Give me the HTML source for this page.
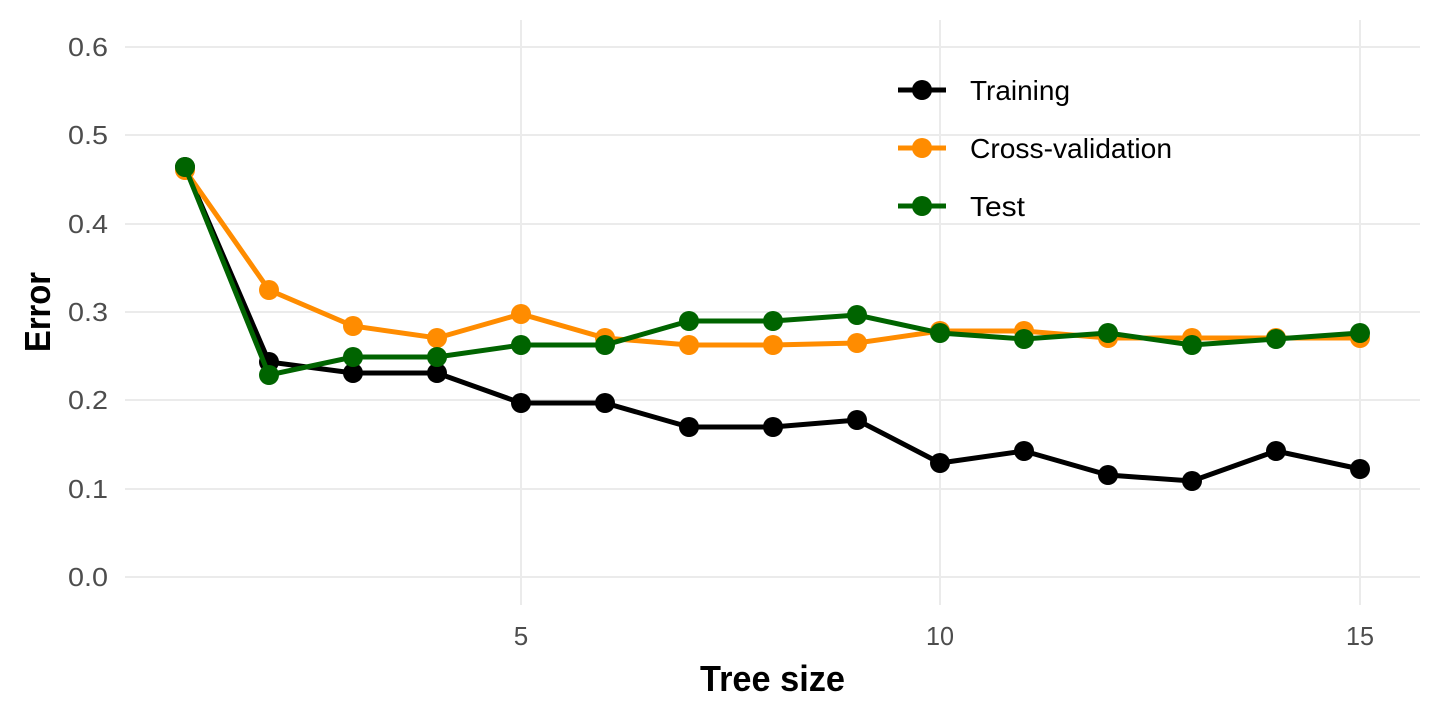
<!DOCTYPE html>
<html><head><style>
body{margin:0;background:#fff;}
svg text{font-family:"Liberation Sans Narrow","Liberation Sans",sans-serif;}
</style></head><body>
<svg width="1440" height="720" xmlns="http://www.w3.org/2000/svg">
<g stroke="#ebebeb" stroke-width="2">
<line x1="125" x2="1420" y1="577" y2="577"/><line x1="125" x2="1420" y1="489" y2="489"/>
<line x1="125" x2="1420" y1="400" y2="400"/><line x1="125" x2="1420" y1="312" y2="312"/>
<line x1="125" x2="1420" y1="224" y2="224"/><line x1="125" x2="1420" y1="135" y2="135"/>
<line x1="125" x2="1420" y1="47" y2="47"/>
<line x1="521" x2="521" y1="20" y2="605"/><line x1="940" x2="940" y1="20" y2="605"/><line x1="1360" x2="1360" y1="20" y2="605"/>
</g>
<g fill="#4d4d4d" font-size="26">
<text x="68" y="586" textLength="40" lengthAdjust="spacingAndGlyphs">0.0</text>
<text x="68" y="498" textLength="40" lengthAdjust="spacingAndGlyphs">0.1</text>
<text x="68" y="409" textLength="40" lengthAdjust="spacingAndGlyphs">0.2</text>
<text x="68" y="321" textLength="40" lengthAdjust="spacingAndGlyphs">0.3</text>
<text x="68" y="233" textLength="40" lengthAdjust="spacingAndGlyphs">0.4</text>
<text x="68" y="144" textLength="40" lengthAdjust="spacingAndGlyphs">0.5</text>
<text x="68" y="56" textLength="40" lengthAdjust="spacingAndGlyphs">0.6</text>
</g>
<g fill="#4d4d4d" font-size="26" text-anchor="middle">
<text x="521" y="645">5</text>
<text x="940" y="645" textLength="28" lengthAdjust="spacingAndGlyphs">10</text>
<text x="1360" y="645" textLength="28" lengthAdjust="spacingAndGlyphs">15</text>
</g>
<text x="700" y="691" font-size="36" font-weight="bold" textLength="145" lengthAdjust="spacingAndGlyphs">Tree size</text>
<text transform="translate(50,352) rotate(-90)" font-size="36" font-weight="bold" textLength="80" lengthAdjust="spacingAndGlyphs">Error</text>
<g stroke="#000" stroke-width="5" fill="none"><polyline points="185,167 269,362 353,373 437,373 521,403 605,403 689,427 773,427 857,420 940,463 1024,451 1108,475 1192,481 1276,451 1360,469"/></g>
<g fill="#000"><circle cx="185" cy="167" r="10"/><circle cx="269" cy="362" r="10"/><circle cx="353" cy="373" r="10"/><circle cx="437" cy="373" r="10"/><circle cx="521" cy="403" r="10"/><circle cx="605" cy="403" r="10"/><circle cx="689" cy="427" r="10"/><circle cx="773" cy="427" r="10"/><circle cx="857" cy="420" r="10"/><circle cx="940" cy="463" r="10"/><circle cx="1024" cy="451" r="10"/><circle cx="1108" cy="475" r="10"/><circle cx="1192" cy="481" r="10"/><circle cx="1276" cy="451" r="10"/><circle cx="1360" cy="469" r="10"/></g>
<g stroke="#ff8c00" stroke-width="5" fill="none"><polyline points="185,170 269,290 353,326 437,338 521,314 605,338 689,345 773,345 857,343 940,331 1024,331 1108,338 1192,338 1276,338 1360,338"/></g>
<g fill="#ff8c00"><circle cx="185" cy="170" r="10"/><circle cx="269" cy="290" r="10"/><circle cx="353" cy="326" r="10"/><circle cx="437" cy="338" r="10"/><circle cx="521" cy="314" r="10"/><circle cx="605" cy="338" r="10"/><circle cx="689" cy="345" r="10"/><circle cx="773" cy="345" r="10"/><circle cx="857" cy="343" r="10"/><circle cx="940" cy="331" r="10"/><circle cx="1024" cy="331" r="10"/><circle cx="1108" cy="338" r="10"/><circle cx="1192" cy="338" r="10"/><circle cx="1276" cy="338" r="10"/><circle cx="1360" cy="338" r="10"/></g>
<g stroke="#006400" stroke-width="5" fill="none"><polyline points="185,167 269,375 353,357 437,357 521,345 605,345 689,321 773,321 857,315 940,333 1024,339 1108,333 1192,345 1276,339 1360,333"/></g>
<g fill="#006400"><circle cx="185" cy="167" r="10"/><circle cx="269" cy="375" r="10"/><circle cx="353" cy="357" r="10"/><circle cx="437" cy="357" r="10"/><circle cx="521" cy="345" r="10"/><circle cx="605" cy="345" r="10"/><circle cx="689" cy="321" r="10"/><circle cx="773" cy="321" r="10"/><circle cx="857" cy="315" r="10"/><circle cx="940" cy="333" r="10"/><circle cx="1024" cy="339" r="10"/><circle cx="1108" cy="333" r="10"/><circle cx="1192" cy="345" r="10"/><circle cx="1276" cy="339" r="10"/><circle cx="1360" cy="333" r="10"/></g>
<g stroke-width="5">
<line x1="898" x2="946" y1="90" y2="90" stroke="#000"/><circle cx="922" cy="90" r="10" fill="#000"/>
<line x1="898" x2="946" y1="148" y2="148" stroke="#ff8c00"/><circle cx="922" cy="148" r="10" fill="#ff8c00"/>
<line x1="898" x2="946" y1="206" y2="206" stroke="#006400"/><circle cx="922" cy="206" r="10" fill="#006400"/>
</g>
<g font-size="28" fill="#000">
<text x="970" y="100" textLength="100" lengthAdjust="spacingAndGlyphs">Training</text>
<text x="970" y="158" textLength="202" lengthAdjust="spacingAndGlyphs">Cross-validation</text>
<text x="970" y="216" textLength="55" lengthAdjust="spacingAndGlyphs">Test</text>
</g>
</svg>
</body></html>
